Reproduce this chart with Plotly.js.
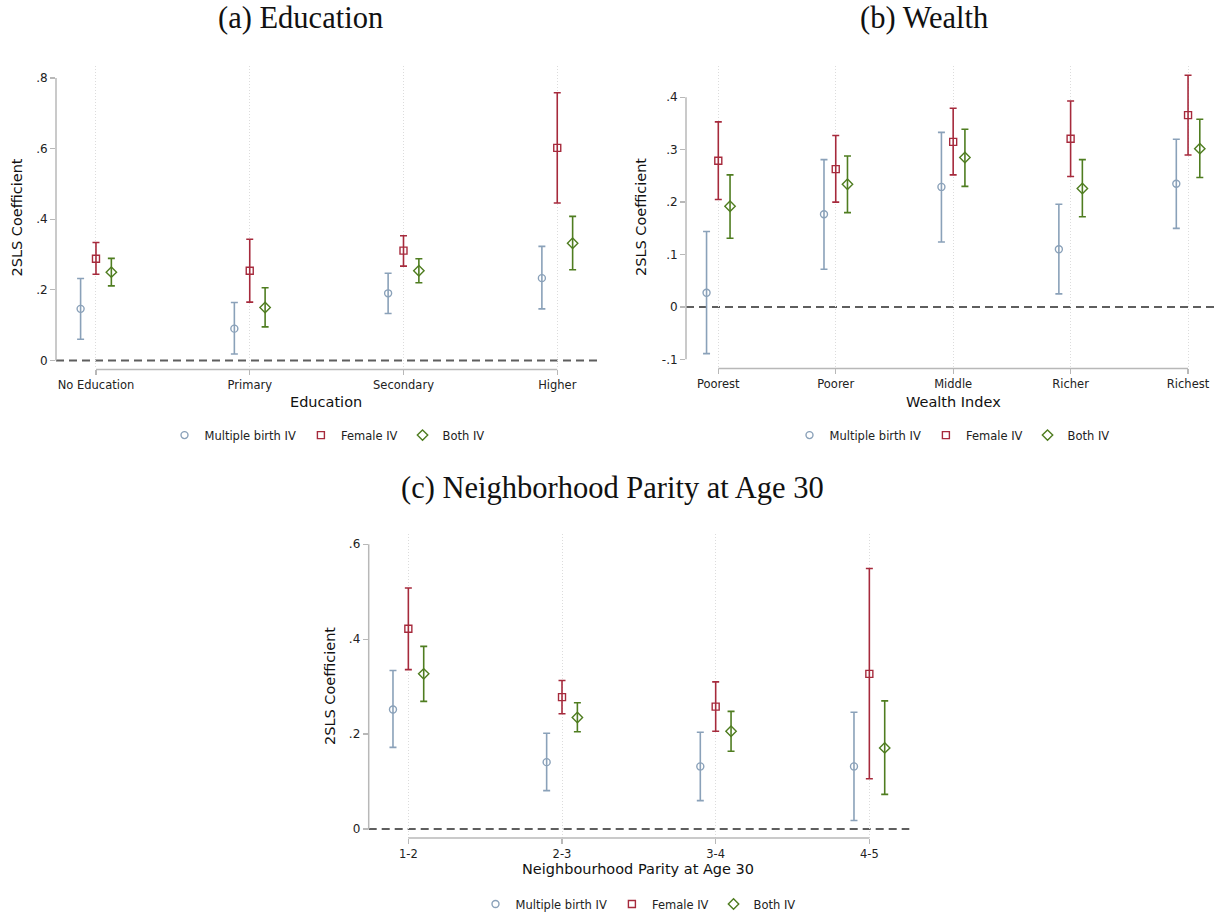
<!DOCTYPE html>
<html>
<head>
<meta charset="utf-8">
<script src="https://cdn.plot.ly/plotly-3.0.1.min.js"></script>
<style>html,body{margin:0;padding:0;background:#fff;}</style>
</head>
<body>
<div id="chart" style="width:1225px;height:919px;"></div>
<script>
// ---- (a) Education ----
const eduCats = ['No Education', 'Primary', 'Secondary', 'Higher'];
const eduMultipleEst = [0.146, 0.090, 0.190, 0.233];
const eduMultipleLo  = [0.060, 0.018, 0.133, 0.146];
const eduMultipleHi  = [0.232, 0.164, 0.247, 0.323];
const eduFemaleEst   = [0.288, 0.254, 0.311, 0.602];
const eduFemaleLo    = [0.244, 0.165, 0.267, 0.446];
const eduFemaleHi    = [0.334, 0.343, 0.353, 0.758];
const eduBothEst     = [0.250, 0.150, 0.254, 0.332];
const eduBothLo      = [0.211, 0.095, 0.220, 0.257];
const eduBothHi      = [0.289, 0.206, 0.288, 0.408];
const eduYTicks      = [0, 0.2, 0.4, 0.6, 0.8];
const eduYLabels     = ['0', '.2', '.4', '.6', '.8'];

// ---- (b) Wealth ----
const wealthCats = ['Poorest', 'Poorer', 'Middle', 'Richer', 'Richest'];
const wealthMultipleEst = [0.027, 0.177, 0.229, 0.110, 0.235];
const wealthMultipleLo  = [-0.089, 0.072, 0.124, 0.025, 0.150];
const wealthMultipleHi  = [0.144, 0.281, 0.333, 0.196, 0.320];
const wealthFemaleEst   = [0.279, 0.263, 0.315, 0.321, 0.366];
const wealthFemaleLo    = [0.205, 0.200, 0.252, 0.249, 0.290];
const wealthFemaleHi    = [0.353, 0.327, 0.379, 0.393, 0.442];
const wealthBothEst     = [0.192, 0.234, 0.285, 0.226, 0.302];
const wealthBothLo      = [0.131, 0.180, 0.230, 0.172, 0.247];
const wealthBothHi      = [0.252, 0.288, 0.339, 0.281, 0.358];
const wealthYTicks      = [-0.1, 0, 0.1, 0.2, 0.3, 0.4];
const wealthYLabels     = ['-.1', '0', '.1', '.2', '.3', '.4'];

// ---- (c) Neighbourhood parity ----
const parityCats = ['1-2', '2-3', '3-4', '4-5'];
const parityMultipleEst = [0.252, 0.141, 0.132, 0.132];
const parityMultipleLo  = [0.172, 0.081, 0.060, 0.018];
const parityMultipleHi  = [0.334, 0.202, 0.204, 0.246];
const parityFemaleEst   = [0.422, 0.278, 0.258, 0.327];
const parityFemaleLo    = [0.336, 0.243, 0.206, 0.106];
const parityFemaleHi    = [0.508, 0.313, 0.310, 0.549];
const parityBothEst     = [0.327, 0.235, 0.206, 0.171];
const parityBothLo      = [0.269, 0.205, 0.164, 0.073];
const parityBothHi      = [0.385, 0.266, 0.248, 0.270];
const parityYTicks      = [0, 0.2, 0.4, 0.6];
const parityYLabels     = ['0', '.2', '.4', '.6'];

const seriesNames = ['Multiple birth IV', 'Female IV', 'Both IV'];

// ---- styling ----
const COLORS  = ['#8aa1b9', '#a62a3c', '#4f7d20'];
const SYMBOLS = ['circle-open', 'square-open', 'diamond-open'];
const SIZES   = [7, 7, 8];
const OFFSETS = [-0.1, 0, 0.1];
const AXIS_GRAY = '#b8b8b8';
const SANS = 'DejaVu Sans, Verdana, sans-serif';
const SERIF = 'Liberation Serif, Times New Roman, serif';
const W = 1225, H = 919;
const px = v => v / W;
const py = v => 1 - v / H;

function panelTraces(cats, groups, xa, ya, legendId) {
  return groups.map((g, i) => ({
    type: 'scatter',
    mode: 'markers',
    name: seriesNames[i],
    legend: legendId,
    xaxis: xa, yaxis: ya,
    x: cats.map((_, k) => k + 1 + OFFSETS[i]),
    y: g.est,
    error_y: {
      type: 'data', symmetric: false,
      array: g.est.map((v, k) => g.hi[k] - v),
      arrayminus: g.est.map((v, k) => v - g.lo[k]),
      color: COLORS[i], thickness: 1.6, width: 3.5
    },
    marker: { symbol: SYMBOLS[i], size: SIZES[i], color: COLORS[i], line: { width: 1.4, color: COLORS[i] } },
    hoverinfo: 'x+y'
  }));
}

const traces = [].concat(
  panelTraces(eduCats, [
    { est: eduMultipleEst, lo: eduMultipleLo, hi: eduMultipleHi },
    { est: eduFemaleEst, lo: eduFemaleLo, hi: eduFemaleHi },
    { est: eduBothEst, lo: eduBothLo, hi: eduBothHi }
  ], 'x', 'y', 'legend'),
  panelTraces(wealthCats, [
    { est: wealthMultipleEst, lo: wealthMultipleLo, hi: wealthMultipleHi },
    { est: wealthFemaleEst, lo: wealthFemaleLo, hi: wealthFemaleHi },
    { est: wealthBothEst, lo: wealthBothLo, hi: wealthBothHi }
  ], 'x2', 'y2', 'legend2'),
  panelTraces(parityCats, [
    { est: parityMultipleEst, lo: parityMultipleLo, hi: parityMultipleHi },
    { est: parityFemaleEst, lo: parityFemaleLo, hi: parityFemaleHi },
    { est: parityBothEst, lo: parityBothLo, hi: parityBothHi }
  ], 'x3', 'y3', 'legend3')
);

function xAxis(cats, domain, range, anchor) {
  return {
    domain: domain, range: range, anchor: anchor,
    tickmode: 'array', tickvals: cats.map((_, k) => k + 1), ticktext: cats,
    ticks: 'outside', ticklen: 5, tickwidth: 1.3, tickcolor: AXIS_GRAY,
    showline: false, zeroline: false,
    showgrid: true, griddash: '1px,2px', gridcolor: '#dcdcdc', gridwidth: 1,
    tickfont: { family: SANS, size: 11.5, color: '#222' },
    fixedrange: true
  };
}
function yAxis(vals, labels, domain, range, anchor) {
  return {
    domain: domain, range: range, anchor: anchor,
    tickmode: 'array', tickvals: vals, ticktext: labels,
    ticks: 'outside', ticklen: 5, tickwidth: 1.3, tickcolor: AXIS_GRAY,
    showline: false, zeroline: false, showgrid: false,
    tickfont: { family: SANS, size: 12, color: '#222' },
    fixedrange: true
  };
}

// axis lines span only the labelled range; dashed reference line at zero
function panelShapes(xa, ya, nCats, yTicks) {
  return [
    { type: 'line', xref: xa + ' domain', yref: ya, x0: 0, x1: 0,
      y0: yTicks[0], y1: yTicks[yTicks.length - 1], line: { color: AXIS_GRAY, width: 1.5 } },
    { type: 'line', xref: xa, yref: ya + ' domain', x0: 1, x1: nCats, y0: 0, y1: 0,
      line: { color: AXIS_GRAY, width: 1.5 } },
    { type: 'line', xref: xa + ' domain', yref: ya, x0: 0, x1: 1, y0: 0, y1: 0,
      layer: 'below', line: { color: '#5e5e5e', width: 2, dash: '8px,5px' } }
  ];
}

function txt(text, x, y, size, family, extra) {
  return Object.assign({
    text: text, xref: 'paper', yref: 'paper', x: px(x), y: py(y),
    xanchor: 'center', yanchor: 'middle', showarrow: false,
    font: { family: family, size: size, color: '#111' }
  }, extra || {});
}

function legendAt(x, y) {
  return {
    orientation: 'h', x: px(x), y: py(y), xanchor: 'center', yanchor: 'middle',
    bgcolor: 'rgba(0,0,0,0)', font: { family: SANS, size: 11.5, color: '#222' },
    itemwidth: 30, tracegroupgap: 0
  };
}

const layout = {
  width: W, height: H,
  margin: { l: 0, r: 0, t: 0, b: 0 },
  paper_bgcolor: '#fff', plot_bgcolor: '#fff',
  showlegend: true,
  xaxis:  xAxis(eduCats,    [px(56), px(598)],      [0.74, 4.265],  'y'),
  yaxis:  yAxis(eduYTicks, eduYLabels, [py(371), py(66)], [-0.0254, 0.8347], 'x'),
  xaxis2: xAxis(wealthCats, [px(686), px(1218)],    [0.725, 5.255], 'y2'),
  yaxis2: yAxis(wealthYTicks, wealthYLabels, [py(370), py(66.7)], [-0.1172, 0.4589], 'x2'),
  xaxis3: xAxis(parityCats, [px(368.7), px(909.3)], [0.742, 4.26],  'y3'),
  yaxis3: yAxis(parityYTicks, parityYLabels, [py(841.7), py(536.7)], [-0.0189, 0.6209], 'x3'),
  legend:  legendAt(327, 437),
  legend2: legendAt(952, 437),
  legend3: legendAt(638, 908),
  shapes: [].concat(
    panelShapes('x', 'y', eduCats.length, eduYTicks),
    panelShapes('x2', 'y2', wealthCats.length, wealthYTicks),
    panelShapes('x3', 'y3', parityCats.length, parityYTicks)
  ),
  annotations: [
    txt('(a) Education', 300, 18, 30.5, SERIF),
    txt('(b) Wealth', 924, 18, 30.5, SERIF),
    txt('(c) Neighborhood Parity at Age 30', 612, 490, 30.5, SERIF),
    txt('Education', 326, 404, 14.5, SANS),
    txt('Wealth Index', 953, 404, 14.5, SANS),
    txt('Neighbourhood Parity at Age 30', 638, 873, 14.5, SANS),
    txt('2SLS Coefficient', 17, 218.5, 14.5, SANS, { textangle: -90 }),
    txt('2SLS Coefficient', 641, 218, 14.5, SANS, { textangle: -90 }),
    txt('2SLS Coefficient', 330, 689, 14.5, SANS, { textangle: -90 })
  ]
};

Plotly.newPlot('chart', traces, layout, { displayModeBar: false, staticPlot: true });
</script>
</body>
</html>
